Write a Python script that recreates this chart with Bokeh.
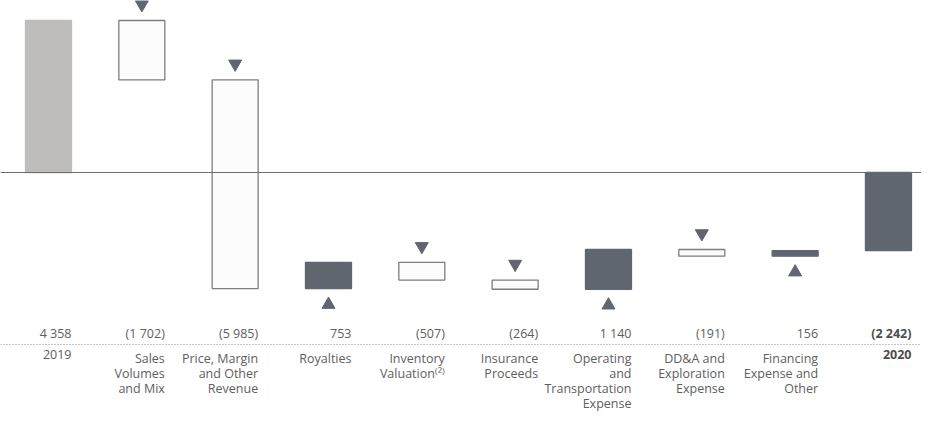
from bokeh.plotting import figure
from bokeh.models import Range1d, Span, ColumnDataSource
from bokeh.core.properties import value
from bokeh.embed import file_html
from bokeh.resources import INLINE

# ---- data ----
categories = ["2019", "Sales\nVolumes\nand Mix", "Price, Margin\nand Other\nRevenue",
              "Royalties", "Inventory\nValuation⁽²⁾", "Insurance\nProceeds",
              "Operating\nand\nTransportation\nExpense", "DD&A and\nExploration\nExpense",
              "Financing\nExpense and\nOther", "2020"]
changes = [4358, -1702, -5985, 753, -507, -264, 1140, -191, 156, -2242]
value_labels = ["4 358", "(1 702)", "(5 985)", "753", "(507)", "(264)", "1 140", "(191)", "156", "(2 242)"]

# ---- layout constants ----
W, H = 921, 413
PX_PER_CAT = 93.33
X0_PX = 48.0
PX_PER_UNIT = 0.03488
ZERO_PX = 172.0
BAR_W = 46 / PX_PER_CAT
TRI_OFF = 16.0 / PX_PER_UNIT

x_start = -X0_PX / PX_PER_CAT
x_end = x_start + W / PX_PER_CAT
y_end = ZERO_PX / PX_PER_UNIT
y_start = y_end - H / PX_PER_UNIT


def py(px):
    return y_end - px / PX_PER_UNIT


GREY = "#bebdbb"
DARK = "#5f6670"
WHITE = "#fcfcfc"
OUTLINE = "#7d7d7d"
TEXT = "#5e5e5e"

# ---- compute waterfall ----
n = len(changes)
xs = list(range(n))
bottoms, tops, fills, lines = [], [], [], []
tri_dn_x, tri_dn_y, tri_up_x, tri_up_y = [], [], [], []
running = 0
for i, c in enumerate(changes):
    if i == 0:
        b, t = 0, c
        running = c
        fills.append(GREY); lines.append(GREY)
    elif i == n - 1:
        b, t = min(0, c), max(0, c)
        fills.append(DARK); lines.append(DARK)
    else:
        new = running + c
        b, t = min(running, new), max(running, new)
        running = new
        if c < 0:
            fills.append(WHITE); lines.append(OUTLINE)
            tri_dn_x.append(i); tri_dn_y.append(t + TRI_OFF)
        else:
            fills.append(DARK); lines.append(DARK)
            tri_up_x.append(i); tri_up_y.append(b - TRI_OFF)
    bottoms.append(b); tops.append(t)

p = figure(width=W, height=H, x_range=Range1d(x_start, x_end), y_range=Range1d(y_start, y_end),
           output_backend="svg", toolbar_location=None, x_axis_location=None, y_axis_location=None,
           min_border=0)
p.grid.visible = False
p.outline_line_color = None
p.background_fill_color = "white"

p.add_layout(Span(location=0, dimension="width", line_color="#6e6e6e", line_width=1))
p.add_layout(Span(location=py(344), dimension="width", line_color="#8c8c8c", line_width=1,
                  line_dash="1 2"))

src = ColumnDataSource(dict(x=xs, top=tops, bottom=bottoms, fill=fills, line=lines))
p.vbar(x="x", width=BAR_W, top="top", bottom="bottom", fill_color="fill", line_color="line",
       line_width=1.3, source=src)

p.scatter(tri_dn_x, tri_dn_y, marker="inverted_triangle", size=13, color=DARK)
p.scatter(tri_up_x, tri_up_y, marker="triangle", size=13, color=DARK)

lx = [i + BAR_W / 2 for i in xs]
FONT = value("Open Sans")
FS = "12.5px"
VAL_Y = py(333)
CAT_Y = py(349)
LH = 0.9

p.text(lx[:-1], [VAL_Y] * (n - 1), text=value_labels[:-1], text_align="right",
       text_baseline="middle", text_font=FONT, text_font_size=FS, text_color=TEXT)
p.text(lx[-1:], [VAL_Y], text=value_labels[-1:], text_align="right",
       text_baseline="middle", text_font=FONT, text_font_size=FS, text_color="#4d4d4d",
       text_font_style="bold")

p.text(lx[:-1], [CAT_Y] * (n - 1), text=categories[:-1], text_align="right",
       text_baseline="top", text_font=FONT, text_font_size=FS, text_color=TEXT,
       text_line_height=LH)
p.text(lx[-1:], [CAT_Y], text=categories[-1:], text_align="right",
       text_baseline="top", text_font=FONT, text_font_size=FS, text_color="#4d4d4d",
       text_font_style="bold", text_line_height=LH)

open("out.html", "w").write(file_html(p, INLINE))
